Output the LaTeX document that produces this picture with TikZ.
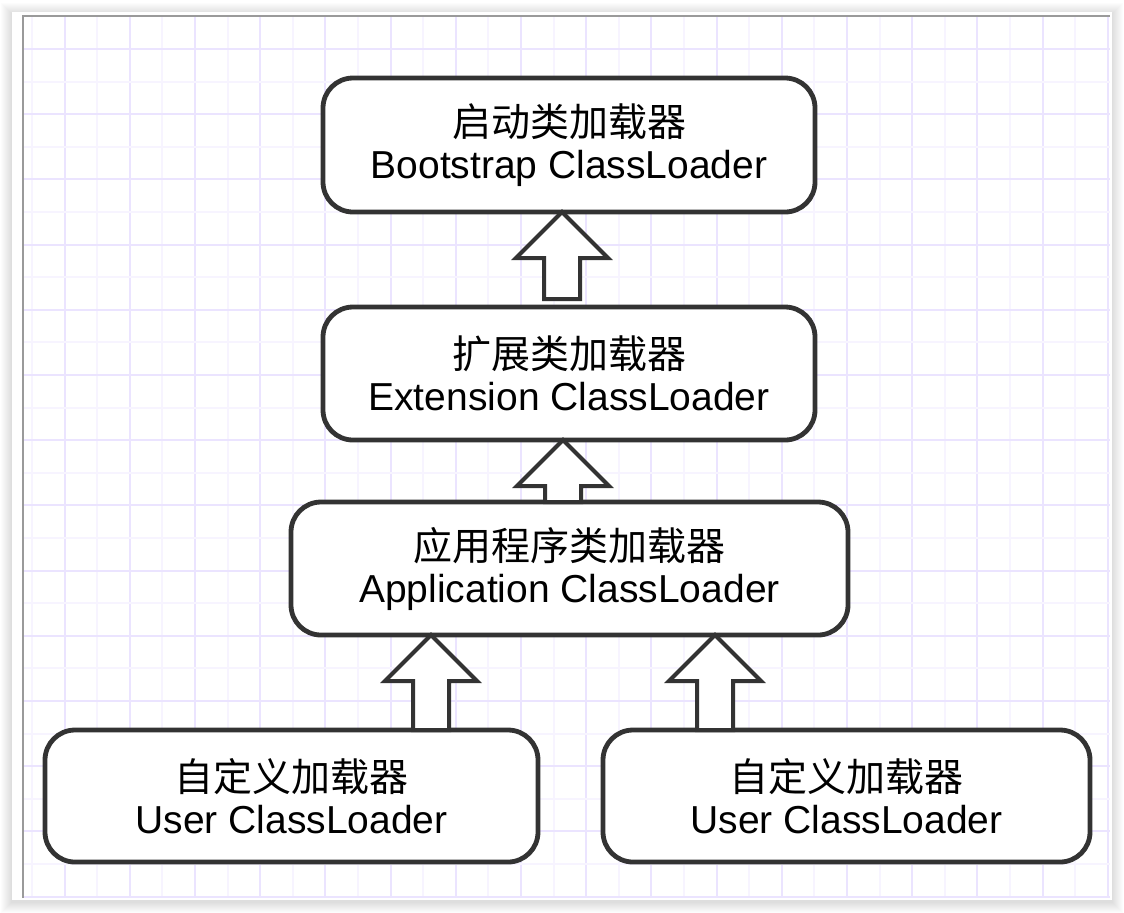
\documentclass[tikz,border=0pt]{standalone}
\usepackage{fontspec}
\setmainfont{Liberation Sans}
\newfontfamily\cjk{Noto Sans CJK SC}
\usetikzlibrary{calc}
\definecolor{gridmajor}{HTML}{EBE4FF}
\definecolor{gridminor}{HTML}{F7F4FF}
\definecolor{inkgray}{HTML}{333333}
\definecolor{framegray}{HTML}{9A9A9A}
\tikzset{
  loader/.style={draw=inkgray,line width=2.4pt,rounded corners=15pt,fill=white,
    align=center,inner sep=0pt,outer sep=0pt,font=\fontsize{19.5}{21}\selectfont},
  hollow/.style={draw=inkgray,line width=2pt,fill=white,line join=miter},
}
\newcommand{\hollowup}[2]{%
  \draw[hollow] ($(#1)+(-18,0)$) -- ($(#2)+(-18,46)$) -- ($(#2)+(-46,46)$) -- (#2)
    -- ($(#2)+(46,46)$) -- ($(#2)+(18,46)$) -- ($(#1)+(18,0)$) -- cycle;}
\begin{document}
\begin{tikzpicture}[x=0.5pt,y=-0.5pt]
    \useasboundingbox (0,0) rectangle (1124,912);
    \fill[white] (0,0) rectangle (1124,912);
    \foreach \s in {1,...,11}
        \fill[black,opacity=0.012] (12-\s,12-\s+2) rectangle (1112+\s,900+\s+2);
    \fill[white] (12,12) rectangle (1112,900);
    \begin{scope}
        \clip (23,16) rectangle (1110,898);
        \foreach \i in {0,...,16} {
            \draw[gridminor,line width=1pt] ({31.9+65.2*\i},16) -- ++(0,882);
            \draw[gridmajor,line width=1pt] ({64.5+65.2*\i},16) -- ++(0,882);
        }
        \foreach \i in {0,...,13} {
            \draw[gridminor,line width=1pt] (23,{81.6+65.2*\i}) -- ++(1087,0);
            \draw[gridmajor,line width=1pt] (23,{49+65.2*\i}) -- ++(1087,0);
        }
    \end{scope}
    \draw[framegray,line width=1pt] (23,898) -- (23,16) -- (1110,16);

    \node[loader,minimum width=246pt,minimum height=67pt] (boot) at (569,145)
        {{\cjk 启动类加载器}\\Bootstrap ClassLoader};
    \node[loader,minimum width=246pt,minimum height=66.5pt] (ext) at (569,373.5)
        {{\cjk 扩展类加载器}\\Extension ClassLoader};
    \node[loader,minimum width=278.5pt,minimum height=66.5pt] (app) at (569.5,568.5)
        {{\cjk 应用程序类加载器}\\Application ClassLoader};
    \node[loader,minimum width=246.5pt,minimum height=66pt] (user1) at (291.5,796)
        {{\cjk 自定义加载器}\\User ClassLoader};
    \node[loader,minimum width=243.5pt,minimum height=66pt] (user2) at (846.5,796)
        {{\cjk 自定义加载器}\\User ClassLoader};

    \coordinate (extfoot) at ($(562,0 |- ext.north)+(0,-8)$);
    \coordinate (boottip) at (562,0 |- boot.south);
    \coordinate (appfoot) at (563,0 |- app.north);
    \coordinate (exttip) at (563,0 |- ext.south);
    \coordinate (user1foot) at (431,0 |- user1.north);
    \coordinate (user1tip) at (431,0 |- app.south);
    \coordinate (user2foot) at (715,0 |- user2.north);
    \coordinate (user2tip) at (715,0 |- app.south);
    \hollowup{extfoot}{boottip}
    \hollowup{appfoot}{exttip}
    \hollowup{user1foot}{user1tip}
    \hollowup{user2foot}{user2tip}
\end{tikzpicture}
\end{document}
